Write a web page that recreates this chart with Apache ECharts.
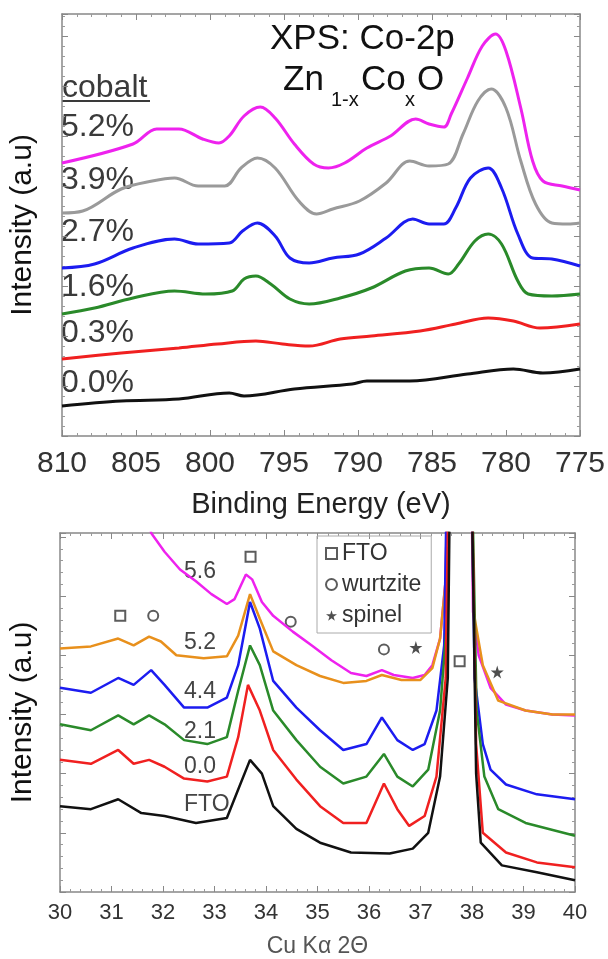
<!DOCTYPE html>
<html>
<head>
<meta charset="UTF-8">
<title>XPS Co-2p / XRD</title>
<script src="https://cdn.jsdelivr.net/npm/echarts@6/dist/echarts.min.js"></script>
<style>
  html, body { margin: 0; padding: 0; background: #fff; }
  #chart { width: 608px; height: 959px; }
</style>
</head>
<body>
<div id="chart"></div>
<script>
// ---- top panel: XPS Co-2p, [binding energy eV, intensity a.u.] ----
var xps52 = [[810,273],[805.2,292],[803.6,307],[802.1,307],[800.5,297],[799.4,293],[798.7,300],[797.7,320],[796.6,329],[795.6,318],[794.3,292],[793.0,272],[792.0,268],[790.9,273],[789.4,288],[787.8,300],[786.1,317],[785.2,312],[784.2,309],[783.7,322],[782.6,358],[781.6,390],[780.7,402],[780.0,385],[779.0,328],[778.2,275],[777.5,255],[776.2,250],[775,246]];
var xps39 = [[810,223],[808.6,225],[806.0,247],[803.9,255],[802.4,258],[800.8,250],[799.0,250],[797.9,268],[796.8,278],[795.6,268],[794.0,235],[792.8,222],[791.7,227],[789.9,235],[788.1,253],[786.5,275],[785.2,270],[783.9,272],[782.9,302],[781.9,335],[781.0,347],[780.0,328],[779.0,275],[778.0,232],[776.9,213],[775.8,212],[775,213]];
var xps27 = [[810,168],[807.8,172],[805.2,188],[802.4,197],[800.8,192],[798.7,193],[797.8,205],[796.8,213],[795.6,200],[794.6,178],[793.3,173],[791.7,178],[789.9,182],[788.1,198],[786.3,217],[785.2,212],[784.2,212],[783.4,228],[782.4,258],[781.2,268],[780.3,248],[779.2,202],[778.2,178],[776.9,177],[775,170]];
var xps16 = [[810,122],[807.8,128],[805.2,138],[802.4,145],[800.3,142],[798.5,145],[797.7,157],[796.9,160],[795.9,152],[794.6,137],[793.3,132],[791.2,138],[789.1,148],[786.8,165],[785.2,168],[783.9,162],[783.2,172],[782.1,195],[781.2,202],[780.3,192],[779.2,155],[778.5,142],[776.9,140],[775,142]];
var xps03 = [[810,77],[806.0,83],[802.1,88],[799.5,92],[796.9,95],[795.1,92],[793.3,90],[791.2,97],[789.1,100],[785.8,105],[783.4,112],[781.2,118],[779.5,115],[777.7,108],[775,112]];
var xps00 = [[810,30],[806.0,35],[802.1,37],[798.7,43],[797.7,40],[794.3,47],[790.4,52],[789.4,55],[786.5,55],[782.6,62],[779.5,67],[777.5,63],[775,67]];
var xpsLabels = ['5.2%', '3.9%', '2.7%', '1.6%', '0.3%', '0.0%'];
var xpsColors = ['#ee22ee', '#9a9a9a', '#1c1cf0', '#2a8a2a', '#f02020', '#111111'];

// ---- bottom panel: XRD, [2theta deg, intensity a.u.] ----
var xrd56 = [[31.5,450],[31.77,364],[32.03,345],[32.33,327],[32.64,315],[32.94,302],[33.24,292],[33.39,297],[33.61,322],[33.73,317],[33.92,294],[34.14,280],[34.52,264],[34.89,250],[35.27,235],[35.65,222],[35.95,219],[36.25,225],[36.48,220],[36.85,217],[37.08,220],[37.23,230],[37.38,257],[37.49,317],[37.6,700],[37.75,1500],[37.85,1500],[37.97,500],[38.02,284],[38.13,240],[38.36,207],[38.66,190],[39.04,184],[39.56,180],[40,179]];
var xrd52 = [[30,247],[30.6,249],[31.13,257],[31.43,250],[31.73,259],[31.96,254],[32.26,240],[32.79,237],[33.24,239],[33.46,260],[33.69,302],[33.88,277],[34.14,244],[34.59,230],[35.05,219],[35.5,212],[35.95,214],[36.25,220],[36.63,215],[37.0,215],[37.23,227],[37.38,257],[37.49,317],[37.6,700],[37.75,1500],[37.85,1500],[37.97,500],[38.03,284],[38.21,230],[38.51,194],[39.04,184],[39.56,180],[40,180]];
var xrd44 = [[30,207],[30.6,202],[31.13,217],[31.43,210],[31.77,225],[32.03,210],[32.41,187],[32.86,187],[33.24,197],[33.46,230],[33.69,294],[33.88,267],[34.14,214],[34.59,187],[35.05,164],[35.5,144],[35.95,150],[36.25,177],[36.55,154],[36.85,144],[37.08,150],[37.31,184],[37.46,250],[37.6,700],[37.75,1500],[37.85,1500],[37.97,500],[38.05,217],[38.21,150],[38.36,124],[38.66,109],[39.26,99],[40,94]];
var xrd21 = [[30,170],[30.6,164],[31.13,179],[31.43,170],[31.73,179],[32.03,170],[32.41,154],[32.86,150],[33.24,157],[33.46,204],[33.69,250],[33.88,230],[34.14,184],[34.59,154],[35.05,127],[35.5,110],[35.95,117],[36.29,140],[36.55,117],[36.85,107],[37.15,124],[37.38,184],[37.53,284],[37.62,700],[37.75,1500],[37.85,1500],[37.97,500],[38.09,184],[38.24,117],[38.51,84],[39.04,70],[40,57]];
var xrd00 = [[30,134],[30.6,130],[31.13,144],[31.43,130],[31.73,134],[32.03,127],[32.41,115],[32.86,112],[33.24,117],[33.46,157],[33.65,210],[33.88,184],[34.14,144],[34.59,114],[35.05,87],[35.5,70],[35.95,70],[36.29,110],[36.55,84],[36.78,67],[37.08,77],[37.31,117],[37.49,217],[37.62,700],[37.75,1500],[37.85,1500],[37.97,500],[38.08,150],[38.21,60],[38.66,40],[39.26,30],[40,25]];
var xrdFto = [[30,87],[30.6,84],[31.13,94],[31.58,80],[32.03,77],[32.64,70],[33.24,75],[33.46,104],[33.69,134],[33.92,120],[34.14,87],[34.59,64],[35.05,50],[35.65,40],[36.4,39],[36.85,44],[37.15,60],[37.38,117],[37.53,217],[37.63,700],[37.75,1500],[37.85,1500],[37.97,500],[38.08,120],[38.17,50],[38.58,27],[39.26,20],[40,12]];
var xrdLabels = ['5.6', '5.2', '4.4', '2.1', '0.0', 'FTO'];
var xrdColors = ['#ee22ee', '#e8901c', '#1c1cf0', '#2a8a2a', '#f02020', '#111111'];

// peak markers
var ftoMarks = [[33.70,340],[31.17,280],[37.76,234]];
var wurtziteMarks = [[31.81,280],[34.48,274],[36.29,246]];
var spinelMarks = [[36.91,248],[38.49,223]];

var FONT = '"Liberation Sans", Arial, sans-serif';
var starPath = 'path://M50,0 L61,35 L98,35 L68,57 L79,91 L50,70 L21,91 L32,57 L2,35 L39,35 Z';

function frameAxis(extra) {
    var a = {
        axisLine: {show: true, onZero: false, lineStyle: {color: '#888', width: 1.5}},
        axisTick: {show: true, inside: true, length: 6, lineStyle: {color: '#888'}},
        minorTick: {show: true, splitNumber: 5, length: 3, lineStyle: {color: '#999'}},
        splitLine: {show: false},
        axisLabel: {show: false}
    };
    for (var k in extra) a[k] = extra[k];
    return a;
}

var series = [];
[xps52, xps39, xps27, xps16, xps03, xps00].forEach(function (d, i) {
    series.push({
        name: 'xps ' + xpsLabels[i], type: 'line', xAxisIndex: 0, yAxisIndex: 0,
        data: d, smooth: 0.35, showSymbol: false,
        lineStyle: {color: xpsColors[i], width: 3}
    });
});
[xrd56, xrd52, xrd44, xrd21, xrd00, xrdFto].forEach(function (d, i) {
    series.push({
        name: 'xrd ' + xrdLabels[i], type: 'line', xAxisIndex: 2, yAxisIndex: 2,
        data: d, showSymbol: false, clip: true,
        lineStyle: {color: xrdColors[i], width: 2.5}
    });
});
series.push({
    name: 'FTO', type: 'scatter', xAxisIndex: 2, yAxisIndex: 2, data: ftoMarks,
    symbol: 'rect', symbolSize: 10,
    itemStyle: {color: '#fff', borderColor: '#333', borderWidth: 2}
});
series.push({
    name: 'wurtzite', type: 'scatter', xAxisIndex: 2, yAxisIndex: 2, data: wurtziteMarks,
    symbol: 'circle', symbolSize: 10,
    itemStyle: {color: '#fff', borderColor: '#333', borderWidth: 2}
});
series.push({
    name: 'spinel', type: 'scatter', xAxisIndex: 2, yAxisIndex: 2, data: spinelMarks,
    symbol: starPath, symbolSize: 13,
    itemStyle: {color: '#222'}
});

var xpsLabelY = [128, 181, 233, 288, 334, 384];
var xrdLabelY = [572, 643, 692, 732, 767, 805];
var graphics = [];
xpsLabels.forEach(function (t, i) {
    graphics.push({type: 'text', left: 61, top: xpsLabelY[i] - 17,
        style: {text: t, font: '32px ' + FONT, fill: '#3a3a3a'}});
});
xrdLabels.forEach(function (t, i) {
    graphics.push({type: 'text', left: 184, top: xrdLabelY[i] - 12,
        style: {text: t, font: '23px ' + FONT, fill: '#444'}});
});
graphics.push(
    {type: 'text', left: 62, top: 72, style: {text: 'cobalt', font: '32px ' + FONT, fill: '#3a3a3a'}},
    {type: 'line', shape: {x1: 62, y1: 101, x2: 150, y2: 101}, style: {stroke: '#3a3a3a', lineWidth: 2}},
    {type: 'text', left: 270, top: 22, style: {text: 'XPS: Co-2p', font: '35px ' + FONT, fill: '#111'}},
    {type: 'text', left: 283, top: 63, style: {text: 'Zn', font: '35px ' + FONT, fill: '#111'}},
    {type: 'text', left: 331, top: 90, style: {text: '1-x', font: '20px ' + FONT, fill: '#111'}},
    {type: 'text', left: 361, top: 63, style: {text: 'Co', font: '35px ' + FONT, fill: '#111'}},
    {type: 'text', left: 405, top: 90, style: {text: 'x', font: '20px ' + FONT, fill: '#111'}},
    {type: 'text', left: 417, top: 63, style: {text: 'O', font: '35px ' + FONT, fill: '#111'}}
);

var chart = echarts.init(document.getElementById('chart'));
chart.setOption({
    backgroundColor: '#fff',
    animation: false,
    textStyle: {fontFamily: FONT},
    grid: [
        {left: 57, right: 28, top: 14, height: 422},
        {left: 58, right: 33, top: 533, height: 364}
    ],
    legend: {
        data: ['FTO', 'wurtzite', 'spinel'],
        orient: 'vertical', left: 317, top: 536,
        itemWidth: 11, itemHeight: 11, itemGap: 8,
        padding: [6, 10, 6, 8],
        borderColor: '#aaa', borderWidth: 1,
        selectedMode: false,
        textStyle: {fontSize: 23, color: '#333', fontFamily: FONT}
    },
    xAxis: [
        frameAxis({type: 'value', gridIndex: 0, min: 775, max: 810, interval: 5, inverse: true, position: 'bottom',
            name: 'Binding Energy (eV)', nameLocation: 'middle', nameGap: 54,
            nameTextStyle: {fontSize: 29, color: '#222', fontFamily: FONT},
            axisLabel: {show: true, fontSize: 30, color: '#333', margin: 13, fontFamily: FONT}}),
        frameAxis({type: 'value', gridIndex: 0, min: 775, max: 810, interval: 5, inverse: true, position: 'top'}),
        frameAxis({type: 'value', gridIndex: 1, min: 30, max: 40, interval: 1, position: 'bottom',
            name: 'Cu K\u03b1 2\u0398', nameLocation: 'middle', nameGap: 43,
            nameTextStyle: {fontSize: 23, color: '#555', fontFamily: FONT},
            axisLabel: {show: true, fontSize: 22, color: '#333', margin: 10, fontFamily: FONT}}),
        frameAxis({type: 'value', gridIndex: 1, min: 30, max: 40, interval: 1, position: 'top'})
    ],
    yAxis: [
        frameAxis({type: 'value', gridIndex: 0, min: 0, max: 422, interval: 50, position: 'left',
            name: 'Intensity (a.u)', nameLocation: 'middle', nameGap: 24,
            nameTextStyle: {fontSize: 30, color: '#111', fontFamily: FONT}}),
        frameAxis({type: 'value', gridIndex: 0, min: 0, max: 422, interval: 50, position: 'right'}),
        frameAxis({type: 'value', gridIndex: 1, min: 0, max: 364, interval: 60, position: 'left',
            name: 'Intensity (a.u)', nameLocation: 'middle', nameGap: 22,
            nameTextStyle: {fontSize: 30, color: '#111', fontFamily: FONT}}),
        frameAxis({type: 'value', gridIndex: 1, min: 0, max: 364, interval: 60, position: 'right'})
    ],
    series: series,
    graphic: graphics
});
</script>
</body>
</html>
